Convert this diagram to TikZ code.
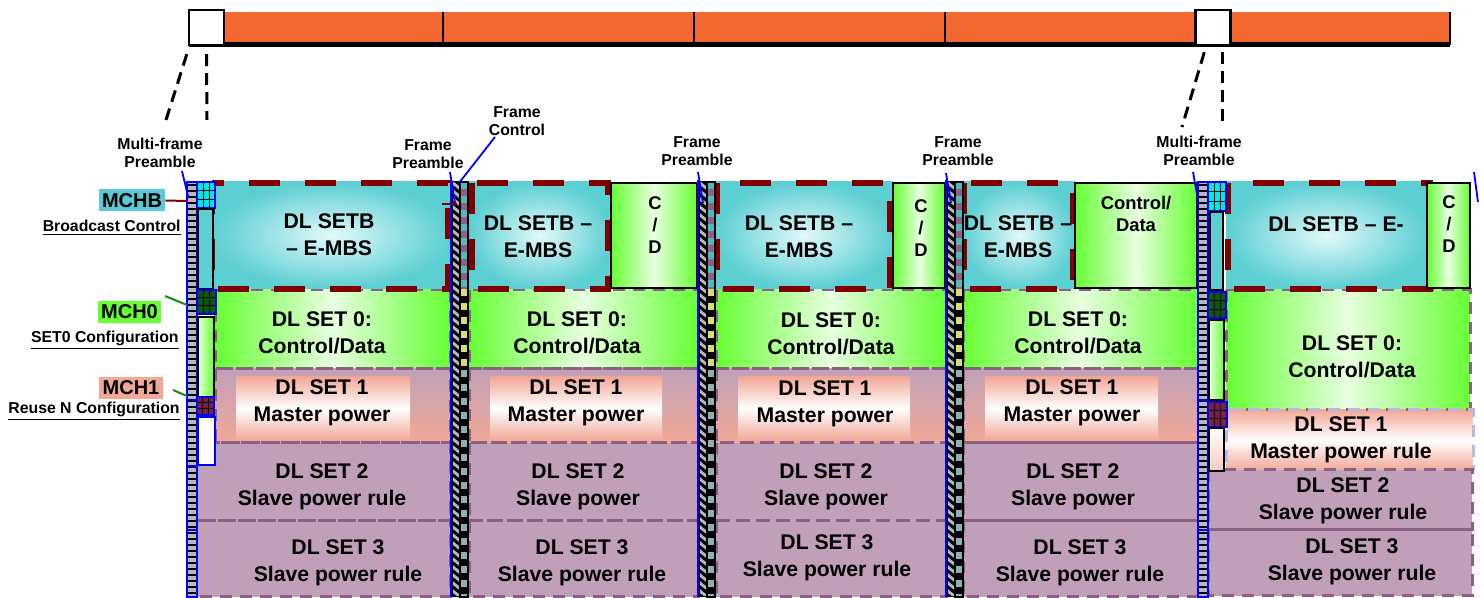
\documentclass[tikz,border=0pt]{standalone}
\usepackage{fontspec}
\setmainfont{Liberation Sans}
\definecolor{orng}{RGB}{242,104,48}
\definecolor{cyB}{RGB}{92,207,211}
\definecolor{cyL}{RGB}{225,249,249}
\definecolor{cyG}{RGB}{0,232,232}
\definecolor{cyD}{RGB}{80,184,192}
\definecolor{grn}{RGB}{102,255,51}
\definecolor{grnL}{RGB}{232,255,224}
\definecolor{slm}{RGB}{242,168,152}
\definecolor{muv}{RGB}{192,160,184}
\definecolor{muvD}{RGB}{139,97,131}
\definecolor{lav}{RGB}{184,184,224}
\definecolor{dred}{RGB}{128,0,0}
\definecolor{dgrn}{RGB}{10,90,10}
\definecolor{mrn}{RGB}{122,31,74}
\definecolor{lad}{RGB}{185,185,185}
\definecolor{mchb}{RGB}{90,200,213}
\definecolor{ylw}{RGB}{216,220,120}
\definecolor{bgy}{RGB}{143,176,176}
\definecolor{lgrn}{RGB}{20,140,20}
\newcommand\hstrip[1]{%
  \begin{scope}
    \clip (#1,182) rectangle ({#1+8},597);
    \fill[lad] (#1,182) rectangle ({#1+8},597);
    \foreach \k in {0,...,53}{\draw[line width=1.5pt] ({#1-3},{176+\k*8}) -- ++(14,11);}
  \end{scope}
  \draw[line width=0.5pt] (#1,182) rectangle ({#1+8},597);
}
\newcommand\cstrip[1]{%
  \begin{scope}
    \clip (#1,182) rectangle ({#1+8},289);
    \foreach \yy in {182,196,...,282}{\fill[cyD] (#1,\yy) rectangle ++(8,7); \fill[muvD] (#1,\yy+7) rectangle ++(8,7);}
  \end{scope}
  \begin{scope}
    \clip (#1,289) rectangle ({#1+8},370);
    \foreach \yy in {289,303,...,366}{\fill[ylw] (#1,\yy) rectangle ++(8,7); \fill[black] (#1,\yy+7) rectangle ++(8,7);}
  \end{scope}
  \begin{scope}
    \clip (#1,370) rectangle ({#1+8},597);
    \foreach \yy in {370,384,...,594}{\fill[bgy] (#1,\yy) rectangle ++(8,7); \fill[black] (#1,\yy+7) rectangle ++(8,7);}
  \end{scope}
  \draw[line width=0.6pt] (#1,182) rectangle ({#1+8},597);
}
\newcommand\ladder[1]{%
  \fill[lad] (#1,182) rectangle ({#1+10},597);
  \foreach \k in {0,...,68}{\draw[line width=0.8pt] (#1,{185+\k*6}) -- ++(10,0);}
  \draw[line width=0.5pt] (#1,182) rectangle ({#1+10},597);
  \draw[blue,line width=1.2pt] (#1,182) rectangle ({#1+10},597);
}
\newcommand\mgrid[5]{%
  \fill[#5] (#1,#2) rectangle (#3,#4);
  \draw[line width=0.5pt] ({#1+(#3-#1)/3},#2) -- ({#1+(#3-#1)/3},#4)
    ({#1+2*(#3-#1)/3},#2) -- ({#1+2*(#3-#1)/3},#4)
    (#1,{#2+(#4-#2)/3}) -- (#3,{#2+(#4-#2)/3})
    (#1,{#2+2*(#4-#2)/3}) -- (#3,{#2+2*(#4-#2)/3});
  \draw[blue,line width=1.2pt] (#1,#2) rectangle (#3,#4);
}
\newcommand\rowsstd[5]{%
  \path[grnsh] (#1,290) rectangle (#2,369);
  \path[r1sh] (#1,369) rectangle (#2,443);
  \path[r1in] (#4,377) rectangle (#5,440);
  \fill[muv] (#3,443) rectangle (#2,597);
  \draw[muvd] (#1,290) rectangle (#2,369);
  \draw[muvd] (#1,369) rectangle (#2,443);
  \draw[muvd] (#3,443) rectangle (#2,521);
  \draw[muvd] (#3,521) rectangle (#2,597);
}
\begin{document}
\begin{tikzpicture}[x=0.5pt,y=-0.5pt,
  txt/.style={font=\fontsize{10.6}{13.3}\selectfont\bfseries, align=center, inner sep=0pt},
  cdt/.style={font=\fontsize{9.2}{11}\selectfont\bfseries, align=center, inner sep=0pt},
  sm/.style={font=\fontsize{7.9}{9}\selectfont\bfseries, align=center, inner sep=0pt},
  mch/.style={font=\fontsize{10}{11}\selectfont\bfseries, inner sep=0pt, minimum height=11pt},
  und/.style={font=\fontsize{7.9}{9}\selectfont\bfseries, inner sep=0pt, anchor=east},
  redd/.style={draw=dred, line width=3pt, dash pattern=on 15.5pt off 12.5pt},
  muvd/.style={draw=muvD, line width=1.5pt, dash pattern=on 6pt off 4pt},
  grnsh/.style={left color=grn, right color=grn, middle color=grnL},
  cdbox/.style={left color=grn, right color=grn, middle color=grnL, draw=black, line width=0.9pt},
  cysh/.style={inner color=cyL, outer color=cyB},
  r1sh/.style={top color=muv, bottom color=slm},
  r1in/.style={top color=slm, bottom color=slm, middle color=white},
  dsh/.style={line width=1.5pt, dash pattern=on 6pt off 3.5pt},
  bl/.style={blue, line width=0.9pt},
  sqbox/.style={draw, line width=1.2pt, fill=white, minimum width=17.5pt, minimum height=17.5pt, inner sep=0pt}
]
\useasboundingbox (0,0) rectangle (1484,598);
% top bar
\fill[orng] (224,12) rectangle (1450,43);
\foreach \xx in {443,694,945}{\draw[line width=0.9pt] (\xx,12) -- (\xx,43);}
\draw[line width=0.6pt] (1450,12) -- (1450,45);
\draw[line width=2.5pt] (189,44.5) -- (1450,44.5);
\node[sqbox] (sq1) at (206.5,27.5) {};
\node[sqbox] (sq2) at (1213,27.5) {};
\coordinate (d1) at (166,120);
\coordinate (d2) at (207,120);
\coordinate (d3) at (1182,127);
\coordinate (d4) at (1222,127);
\draw[dsh] ([shift={(-0.5pt,-4pt)}]sq1.south west) -- (d1);
\draw[dsh] ([yshift=-4pt]sq1.south) -- (d2);
\draw[dsh] ([shift={(5pt,-3pt)}]sq2.south west) -- (d3);
\draw[dsh] ([shift={(4.5pt,-3pt)}]sq2.south) -- (d4);
% labels above
\node[sm] (mfp1) at (160,153) {Multi-frame\\Preamble};
\node[sm] (fp1) at (428,154) {Frame\\Preamble};
\node[sm] (fc) at (517,121) {Frame\\Control};
\node[sm] (fp2) at (697,151) {Frame\\Preamble};
\node[sm] (fp3) at (958,151) {Frame\\Preamble};
\node[sm] (mfp2) at (1199,151) {Multi-frame\\Preamble};
% rows
\rowsstd{215}{450}{196}{236}{410}
\rowsstd{469}{698}{469}{490}{662}
\rowsstd{716}{946}{716}{738}{910}
\rowsstd{963}{1198}{963}{985}{1158}
\path[grnsh] (1226,290) rectangle (1470,410);
\path[r1in] (1226,410) rectangle (1473,470);
\fill[muv] (1208,470) rectangle (1472,596);
\draw[muvd] (1226,290) rectangle (1470,410);
\draw[draw=lav, line width=1.5pt, dash pattern=on 6pt off 4pt] (1226,410) rectangle (1473,470);
\draw[muvd] (1208,470) rectangle (1472,530);
\draw[muvd] (1208,530) rectangle (1472,596);
% row B
\path[cysh] (213,182) rectangle (450,289);
\draw[redd] (212,183) rectangle (448,289);
\path[cysh] (469,182) rectangle (611,289);
\draw[redd] (472,183) rectangle (608,289);
\path[cysh] (716,182) rectangle (893,289);
\draw[redd] (717,183) rectangle (890,289);
\path[cysh] (963,182) rectangle (1075,289);
\draw[redd] (964,183) rectangle (1073,289);
\path[cysh] (1226,182) rectangle (1427,289);
\draw[redd] (1228,183) rectangle (1430,289);
% texts row B
\node[txt] (b1) at (329,235) {DL SETB\\– E-MBS};
\node[txt] (b2) at (538,237) {DL SETB –\\E-MBS};
\node[txt] (b3) at (799,237) {DL SETB –\\E-MBS};
\node[txt] (b4) at (1018,237) {DL SETB –\\E-MBS};
\node[txt] (b5) at (1336,224) {DL SETB – E-};
% C/D boxes
\path[cdbox] (611,183) rectangle (697,288);
\path[cdbox] (893,183) rectangle (945,288);
\path[cdbox] (1075,183) rectangle (1197,288);
\path[cdbox] (1427,183) rectangle (1470,288);
\node[cdt] (cd2) at (655,225) {C\\/\\D};
\node[cdt] (cd3) at (921,228) {C\\/\\D};
\node[cdt] (cd4) at (1136,214) {Control/\\Data};
\node[cdt] (cd5) at (1449,224) {C\\/\\D};
% row texts
\node[txt] (r01) at (322,333) {DL SET 0:\\Control/Data};
\node[txt] (r11) at (322,403) {DL SET 1\\Master power};
\node[txt] (r21) at (322,487) {DL SET 2\\Slave power rule};
\node[txt] (r31) at (338,563) {DL SET 3\\Slave power rule};
\node[txt] (r02) at (577,333) {DL SET 0:\\Control/Data};
\node[txt] (r12) at (576,403) {DL SET 1\\Master power};
\node[txt] (r22) at (578,487) {DL SET 2\\Slave power};
\node[txt] (r32) at (582,563) {DL SET 3\\Slave power rule};
\node[txt] (r03) at (831,334) {DL SET 0:\\Control/Data};
\node[txt] (r13) at (825,404) {DL SET 1\\Master power};
\node[txt] (r23) at (826,487) {DL SET 2\\Slave power};
\node[txt] (r33) at (827,558) {DL SET 3\\Slave power rule};
\node[txt] (r04) at (1078,333) {DL SET 0:\\Control/Data};
\node[txt] (r14) at (1072,403) {DL SET 1\\Master power};
\node[txt] (r24) at (1073,487) {DL SET 2\\Slave power};
\node[txt] (r34) at (1080,563) {DL SET 3\\Slave power rule};
\node[txt] (r05) at (1352,357) {DL SET 0:\\Control/Data};
\node[txt] (r15) at (1341,440) {DL SET 1\\Master power rule};
\node[txt] (r25) at (1343,501) {DL SET 2\\Slave power rule};
\node[txt] (r35) at (1352,562) {DL SET 3\\Slave power rule};
% frame preamble strips
\hstrip{452}\cstrip{460}
\hstrip{699}\cstrip{707}
\hstrip{947}\cstrip{955}
\draw[bl] (451,180) -- (451,597);
\draw[bl] (698,180) -- (698,597);
\draw[bl] (946,180) -- (946,597);
\draw[dred, line width=1pt] (442,204) -- (457,204);
% multi-frame preamble col 1
\ladder{187}
\draw[blue,line width=1.2pt] (187,400) -- (197,400) (187,466) -- (197,466) (187,530) -- (197,530);
\mgrid{197}{182}{215}{208}{cyG}
\draw[fill=cyB, line width=0.8pt] (198,209) rectangle (213,289);
\mgrid{197}{290}{216}{314}{dgrn}
\path[draw, line width=0.8pt, left color=grnL, right color=grn] (198,317) rectangle (214,397);
\mgrid{197}{397}{214}{415}{mrn}
\draw[blue, fill=white, line width=1.2pt] (198,417) rectangle (215,465);
% multi-frame preamble col 5
\ladder{1198}
\draw[blue,line width=1.2pt] (1198,400) -- (1208,400) (1198,530) -- (1208,530);
\mgrid{1208}{182}{1226}{211}{cyG}
\draw[fill=cyB, line width=0.8pt] (1210,212) rectangle (1223,290);
\mgrid{1208}{292}{1226}{318}{dgrn}
\path[draw, line width=0.8pt, left color=grnL, right color=grn] (1209,320) rectangle (1224,400);
\mgrid{1208}{402}{1227}{427}{mrn}
\path[draw, line width=0.8pt, top color=white, bottom color=slm!60!white] (1209,428) rectangle (1224,471);
% blue leader lines
\coordinate (m1s) at (182,171); \coordinate (m1e) at (188,196);
\coordinate (f1s) at (450,172); \coordinate (f1e) at (455,203);
\coordinate (fcs) at (495,137); \coordinate (fce) at (459,183);
\coordinate (f2s) at (698,172); \coordinate (f2e) at (703,203);
\coordinate (f3s) at (946,173); \coordinate (f3e) at (951,203);
\coordinate (m2s) at (1193,172); \coordinate (m2e) at (1198,200);
\coordinate (rts) at (1474,172); \coordinate (rte) at (1478,202);
\draw[bl] (m1s) -- (m1e);
\draw[bl] (f1s) -- (f1e);
\draw[bl] (fcs) -- (fce);
\draw[bl] (f2s) -- (f2e);
\draw[bl] (f3s) -- (f3e);
\draw[bl] (m2s) -- (m2e);
\draw[bl] (rts) -- (rte);
% left labels
\node[mch, fill=mchb, minimum width=33pt] (mchb) at (132,200.5) {MCHB};
\node[und] (bc) at (181,228) {\underline{Broadcast Control}};
\node[mch, fill=grn, minimum width=31.5pt] (mch0) at (129.5,312) {MCH0};
\node[und] (s0) at (179,340) {\underline{SET0 Configuration}};
\node[mch, fill=slm, minimum width=32pt] (mch1) at (131,388) {MCH1};
\node[und] (rn) at (180,411) {\underline{Reuse N Configuration}};
\coordinate (mbe) at (187,201);
\coordinate (m0a) at (165,296); \coordinate (m0b) at (187,305);
\coordinate (m1a) at (173,390); \coordinate (m1b) at (187,396);
\draw[dred, line width=1pt] (mchb.east) -- (mbe);
\draw[lgrn, line width=1pt] (m0a) -- (m0b);
\draw[lgrn, line width=1pt] (m1a) -- (m1b);
\end{tikzpicture}
\end{document}
